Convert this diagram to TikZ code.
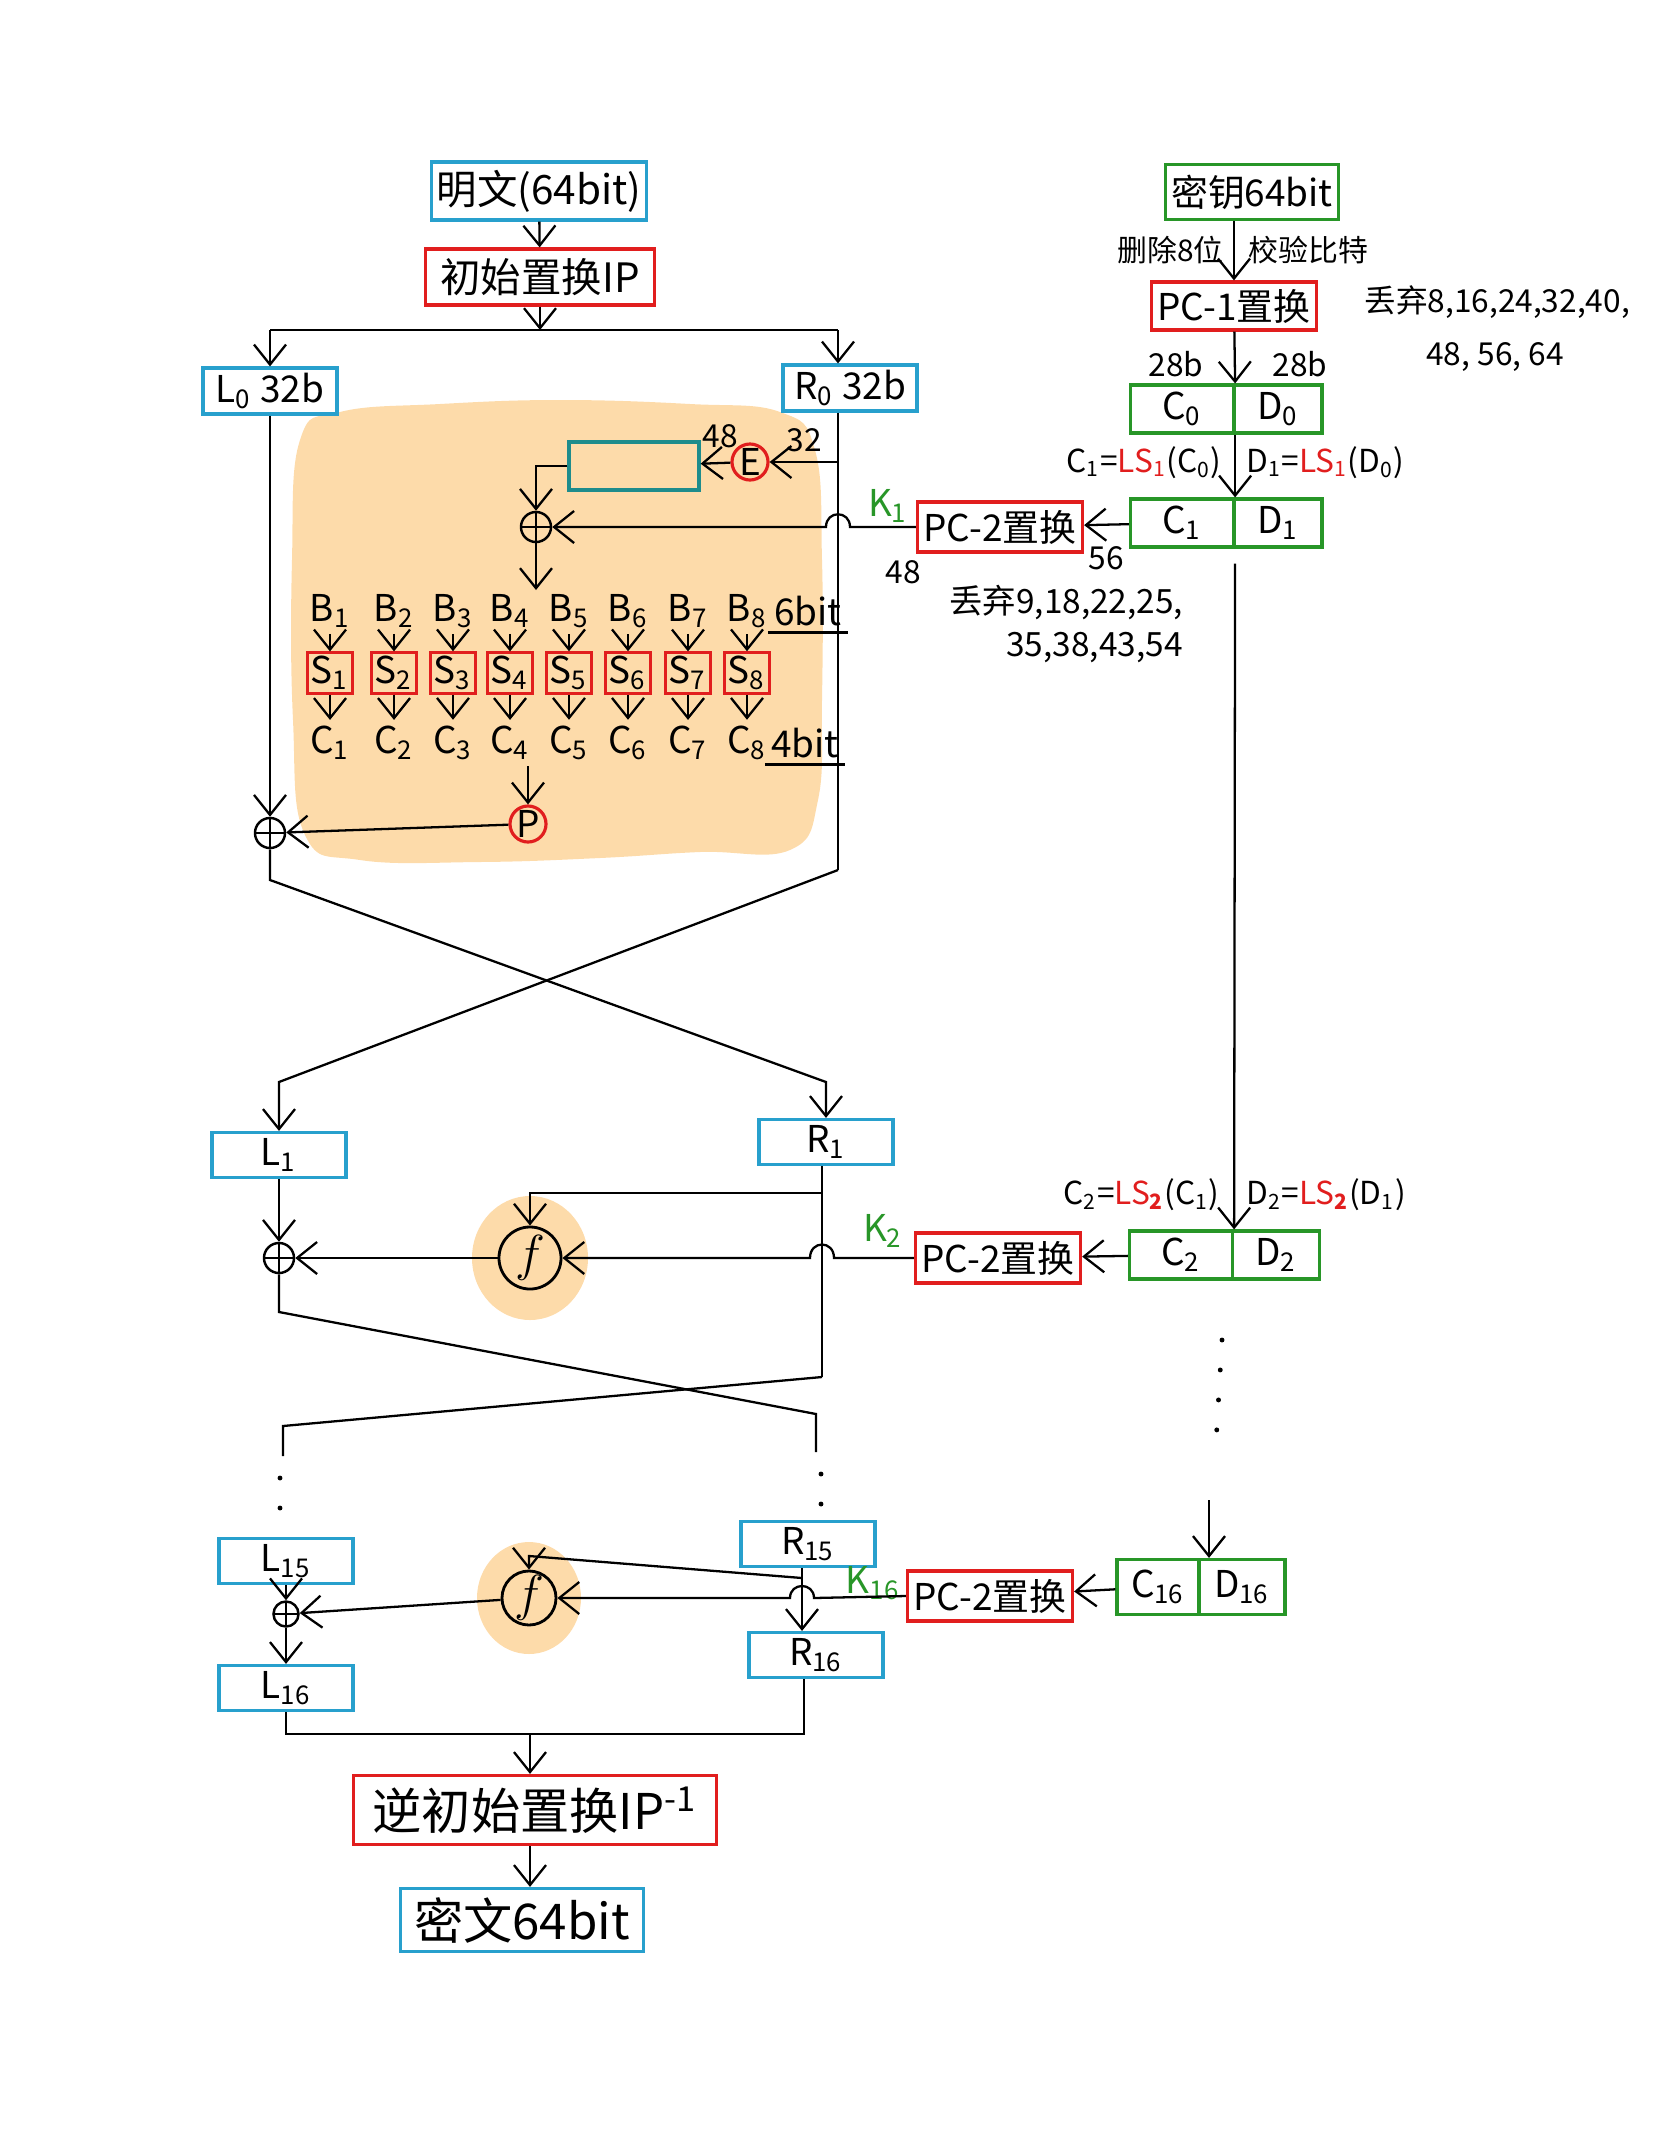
\documentclass[tikz,border=0pt]{standalone}
\usepackage{fontspec}
\setmainfont{Noto Sans CJK SC}
\usetikzlibrary{positioning,arrows.meta}

\definecolor{boxblue}{RGB}{40,160,205}
\definecolor{boxred}{RGB}{225,30,30}
\definecolor{keygreen}{RGB}{40,150,40}
\definecolor{tealc}{RGB}{30,140,140}
\definecolor{blobc}{RGB}{253,219,170}
\newcommand{\lsub}[1]{\textsubscript{#1}}

\begin{document}
\begin{tikzpicture}[
% first : the styles of the scheme
    x=0.01cm, y=-0.01cm,
    every node/.style={font=\fontsize{10.5}{12}\selectfont, inner sep=1.5pt},
    bbox/.style={
        rectangle,
        draw=boxblue,
        line width=0.9pt,
        minimum width=1.34cm,
        minimum height=0.46cm
    },
    rbox/.style={
        rectangle,
        draw=boxred,
        line width=0.9pt,
        minimum width=1.65cm,
        minimum height=0.5cm
    },
    gbox/.style={
        rectangle,
        draw=keygreen,
        line width=0.9pt,
        minimum height=0.48cm
    },
    sbox/.style={
        rectangle,
        draw=boxred,
        line width=0.8pt,
        minimum width=0.37cm,
        minimum height=0.34cm,
        inner sep=1pt
    },
    xorc/.style={
        circle,
        draw,
        line width=0.7pt,
        minimum size=0.3cm,
        inner sep=0pt,
        path picture={
            \draw (path picture bounding box.north) -- (path picture bounding box.south)
                  (path picture bounding box.west) -- (path picture bounding box.east);
        }
    },
    fcirc/.style={circle, draw, line width=0.8pt, minimum size=0.62cm, inner sep=0pt,
        font=\fontsize{14}{16}\selectfont},
    rcirc/.style={circle, draw=boxred, line width=0.9pt, minimum size=0.36cm, inner sep=0pt},
    keylbl/.style={text=keygreen},
    small/.style={font=\fontsize{9}{11}\selectfont},
    dots/.style={line width=1.4pt, line cap=round, dash pattern=on 0pt off 0.3cm},
    >={Straight Barb[length=2mm,width=3.2mm]},
    line width=0.65pt
]
\useasboundingbox (0,0) rectangle (1668,2154);

% orange background of the f function
\fill[blobc] plot[smooth cycle, tension=0.7] coordinates {(300,440) (340,412) (440,404)
    (560,400) (690,404) (780,412) (815,450) (822,560) (822,700) (818,800) (790,850)
    (700,852) (600,858) (480,862) (360,860) (305,835) (293,720) (292,560)};
\fill[blobc] (530,1258) ellipse [x radius=58, y radius=62];
\fill[blobc] (529,1598) ellipse [x radius=52, y radius=56];

% plaintext + initial permutation
\node[bbox, minimum width=2.05cm, minimum height=0.58cm, font=\fontsize{11.5}{13}\selectfont] (plain) at (539,191) {明文(64bit)};
\node[rbox, minimum width=2.29cm, minimum height=0.56cm, font=\fontsize{11.5}{13}\selectfont] (ip) at (540,277) {初始置换IP};
\coordinate (splitl) at (270,330);
\coordinate (splitr) at (838,330);
\node[bbox] (l0) at (270,391) {L\lsub{0} 32b};
\node[bbox] (r0) at (850,388) {R\lsub{0} 32b};

\draw[->] (plain) -- (ip);
\draw[->] (ip) -- (ip |- splitl);
\draw (splitl) -- (splitr);
\draw[->] (splitl) -- (l0);
\draw[->] (splitr) -- (splitr |- r0.north);

% round 1 : f function
\coordinate (r0d) at (838,870);
\node[rcirc] (eexp) at (750,462) {E};
\node[rectangle, draw=tealc, line width=0.9pt, minimum width=1.3cm, minimum height=0.48cm] (xbox) at (634,466) {};
\node[xorc] (xor0) at (536,527) {};
\node[small] (n32) at (804,440) {32};
\node[small] (n48a) at (720,436) {48};

\draw (r0.south -| r0d) -- (r0d);
\draw[->] (eexp.east -| r0d) -- (eexp);
\draw[->] (eexp) -- (xbox);
\draw[->] (xbox.west) -| (xor0);
\draw[->] (xor0) -- (xor0 |- 0,590);

\foreach \i/\x in {1/330,2/394,3/453,4/510,5/569,6/628,7/688,8/747}{
    \node (b\i) at (\x,611) {B\lsub{\i}};
    \node[sbox] (s\i) at (\x,673) {S\lsub{\i}};
    \node (c\i) at (\x,743) {C\lsub{\i}};
    \draw[->] (b\i) -- (s\i);
    \draw[->] (s\i) -- (c\i);
}
\node (sixbit) at (808,611) {6bit};
\node (fourbit) at (805,743) {4bit};
\draw (sixbit.south west) -- (sixbit.south east);
\draw (fourbit.south west) -- (fourbit.south east);

\node[rcirc] (pperm) at (528,824) {P};
\node[xorc] (xorl0) at (270,833) {};
\draw[->] (pperm |- c4.south) -- (pperm);
\draw[->] (pperm) -- (xorl0);
\draw[->] (l0) -- (xorl0);

% swap 1
\coordinate (cl0) at (270,880);
\coordinate (cr1) at (826,1082);
\coordinate (cl1) at (279,1082);
\node[bbox, minimum height=0.45cm] (l1) at (279,1155) {L\lsub{1}};
\node[bbox, minimum height=0.45cm] (r1) at (826,1142) {R\lsub{1}};
\draw[->] (xorl0) -- (cl0) -- (cr1) -- (r1);
\draw[->] (r0d) -- (cl1) -- (l1);

% round 2
\coordinate (r1d) at (822,1377);
\coordinate (br1) at (822,1193);
\node[fcirc] (f2) at (530,1258) {$f$};
\node[xorc] (xorl1) at (279,1258) {};
\draw (r1.south -| r1d) -- (r1d);
\draw[->] (br1) -| (f2);
\draw[->] (l1) -- (xorl1);
\draw[->] (f2) -- (xorl1);

% swap 2
\coordinate (cl1b) at (279,1312);
\coordinate (cr15a) at (816,1414);
\coordinate (cr15b) at (816,1452);
\coordinate (cl15a) at (283,1426);
\coordinate (cl15b) at (283,1456);
\draw (xorl1) -- (cl1b) -- (cr15a) -- (cr15b);
\draw (r1d) -- (cl15a) -- (cl15b);
\coordinate (dotl1) at (280,1478);
\coordinate (dotl2) at (280,1522);
\coordinate (dotr1) at (821,1474);
\coordinate (dotr2) at (821,1508);
\draw[dots] (dotl1) -- (dotl2);
\draw[dots] (dotr1) -- (dotr2);

% round 16
\node[bbox, minimum height=0.45cm] (l15) at (286,1561) {L\lsub{15}};
\node[bbox, minimum height=0.45cm] (r15) at (808,1544) {R\lsub{15}};
\node[bbox, minimum height=0.45cm] (r16) at (816,1655) {R\lsub{16}};
\node[bbox, minimum height=0.45cm] (l16) at (286,1688) {L\lsub{16}};
\node[fcirc, minimum size=0.54cm] (f16) at (529,1598) {$f$};
\node[xorc, minimum size=0.25cm] (xorl15) at (286,1614) {};
\coordinate (br15) at (802,1578);
\coordinate (fb16) at (529,1556);
\draw[->] (r15.south -| br15) -- (r16.north -| br15);
\draw[->] (br15) -- (fb16) -- (f16);
\draw[->] (l15) -- (xorl15);
\draw[->] (xorl15) -- (l16);
\draw[->] (f16) -- (xorl15);

% output
\coordinate (jl) at (286,1734);
\coordinate (jr) at (804,1734);
\coordinate (jm) at (530,1734);
\node[rbox, minimum width=3.63cm, minimum height=0.69cm, font=\fontsize{14}{16}\selectfont] (ipinv) at (535,1810) {逆初始置换IP\textsuperscript{-1}};
\node[bbox, minimum width=2.43cm, minimum height=0.63cm, font=\fontsize{14}{16}\selectfont] (cipher) at (522,1920) {密文64bit};
\draw (l16) -- (jl) -- (jr) -- (r16.south -| jr);
\draw[->] (jm) -- (jm |- ipinv.north);
\draw[->] (ipinv.south -| jm) -- (cipher.north -| jm);

% key schedule
\node[gbox, minimum width=1.55cm, minimum height=0.55cm] (key) at (1252,192) {密钥64bit};
\node[rbox, minimum width=1.65cm, minimum height=0.48cm] (pc1) at (1234,306) {PC-1置换};
\node[anchor=east, font=\fontsize{8.5}{10}\selectfont] (dropa) at (1230,250) {删除8位};
\node[anchor=west, font=\fontsize{8.5}{10}\selectfont] (dropb) at (1242,250) {校验比特};
\node[anchor=west, small] (disc1) at (1358,302) {丢弃8,16,24,32,40,};
\node[anchor=west, small] (disc1b) at (1420,357) {48, 56, 64};
\draw[->] (key.south -| pc1) -- (pc1);

\node[gbox, minimum width=1.03cm] (c0) at (1182,409) {C\lsub{0}};
\node[gbox, minimum width=0.88cm] (d0) at (1278,409) {D\lsub{0}};
\node[small] (b28a) at (1176,364) {28b};
\node[small] (b28b) at (1300,364) {28b};
\draw[->] (pc1) -- (c0.north east);

\node[gbox, minimum width=1.03cm] (c1k) at (1182,523) {C\lsub{1}};
\node[gbox, minimum width=0.88cm] (d1k) at (1278,523) {D\lsub{1}};
\node[anchor=east, small] (ls1c) at (1228,463) {C\lsub{1}=\textcolor{boxred}{LS\lsub{1}}(C\lsub{0})};
\node[anchor=west, small] (ls1d) at (1240,463) {D\lsub{1}=\textcolor{boxred}{LS\lsub{1}}(D\lsub{0})};
\draw[->] (c0.south east) -- (c1k.north east);

\node[rbox] (pc2a) at (1000,527) {PC-2置换};
\node[keylbl] (k1) at (888,506) {K\lsub{1}};
\node[small] (n48b) at (903,572) {48};
\node[small] (n56) at (1106,558) {56};
\node[anchor=west, font=\fontsize{9.5}{11}\selectfont] (disc2) at (943,602) {丢弃9,18,22,25,};
\node[anchor=west, font=\fontsize{9.5}{11}\selectfont] (disc2b) at (1000,648) {35,38,43,54};
\draw[->] (c1k) -- (pc2a);
\draw[->] (pc2a.west) -- (850,527) .. controls (850,510) and (826,510) .. (826,527) -- (xor0);

\node[gbox, minimum width=1.03cm] (c2k) at (1181,1255) {C\lsub{2}};
\node[gbox, minimum width=0.87cm] (d2k) at (1276,1255) {D\lsub{2}};
\node[anchor=east, small] (ls2c) at (1226,1195) {C\lsub{2}=\textcolor{boxred}{LS\textbf{\lsub{2}}}(C\lsub{1})};
\node[anchor=west, small] (ls2d) at (1240,1195) {D\lsub{2}=\textcolor{boxred}{LS\textbf{\lsub{2}}}(D\lsub{1})};
\draw[->, shorten <=0.15cm] (c1k.south east) -- (c2k.north east);

\node[rbox] (pc2b) at (998,1258) {PC-2置换};
\node[keylbl] (k2) at (883,1231) {K\lsub{2}};
\draw[->] (c2k) -- (pc2b);
\draw[->] (pc2b.west) -- (834,1258) .. controls (834,1240) and (810,1240) .. (810,1258) -- (f2);

% dots of the key column
\coordinate (kd1) at (1222,1340);
\coordinate (kd2) at (1216,1443);
\coordinate (kd3) at (1209,1500);
\draw[dots] (kd1) -- (kd2);

\node[gbox, minimum width=0.82cm, minimum height=0.55cm] (c16) at (1158,1587) {C\lsub{16}};
\node[gbox, minimum width=0.86cm, minimum height=0.55cm] (d16) at (1242,1587) {D\lsub{16}};
\draw[->] (kd3) -- (kd3 |- c16.north);

\node[rbox] (pc2c) at (990,1596) {PC-2置换};
\node[keylbl] (k16) at (873,1583) {K\lsub{16}};
\draw[->] (c16) -- (pc2c);
\draw[->] (pc2c.west) -- (814,1598) .. controls (814,1582) and (790,1582) .. (790,1598) -- (f16);

\end{tikzpicture}
\end{document}
